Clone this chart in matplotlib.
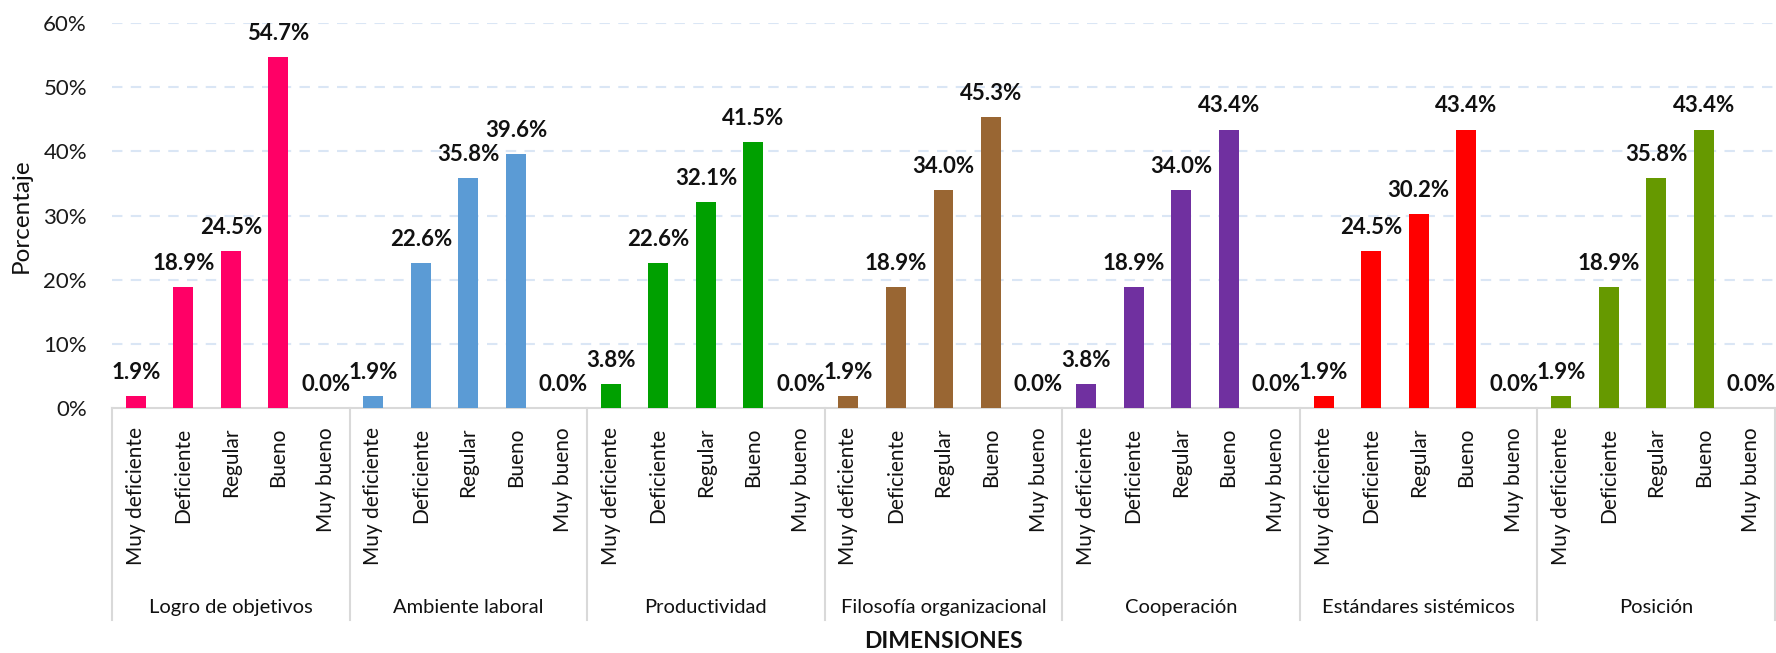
import numpy as np
import matplotlib.pyplot as plt
from matplotlib.ticker import PercentFormatter
import matplotlib.transforms as mtransforms

plt.rcParams['font.family'] = ['Lato', 'DejaVu Sans']

# Datos
dimensiones = ['Logro de objetivos', 'Ambiente laboral', 'Productividad',
               'Filosofía organizacional', 'Cooperación',
               'Estándares sistémicos', 'Posición']
niveles = ['Muy deficiente', 'Deficiente', 'Regular', 'Bueno', 'Muy bueno']

logro = [1.9, 18.9, 24.5, 54.7, 0.0]
ambiente = [1.9, 22.6, 35.8, 39.6, 0.0]
productividad = [3.8, 22.6, 32.1, 41.5, 0.0]
filosofia = [1.9, 18.9, 34.0, 45.3, 0.0]
cooperacion = [3.8, 18.9, 34.0, 43.4, 0.0]
estandares = [1.9, 24.5, 30.2, 43.4, 0.0]
posicion = [1.9, 18.9, 35.8, 43.4, 0.0]

series = [logro, ambiente, productividad, filosofia, cooperacion, estandares, posicion]
colores = ['#FF0066', '#5B9BD5', '#00A000', '#996633', '#7030A0', '#FF0000', '#669900']

fig = plt.figure(figsize=(17.76, 6.53), dpi=100)
ax = fig.add_axes([112 / 1776, 1 - 408 / 653, (1775 - 112) / 1776, 385 / 653])

n = len(niveles)
for g, (vals, col) in enumerate(zip(series, colores)):
    x = np.arange(n) + g * n
    ax.bar(x, vals, width=0.42, color=col, zorder=3)
    for xi, v in zip(x, vals):
        ax.annotate(f'{v:.1f}%', (xi, v), xytext=(0, 17), textcoords='offset points',
                    ha='center', va='center', fontsize=16, fontweight='bold',
                    color='#111111', zorder=4)

total = n * len(series)
ax.set_xlim(-0.5, total - 0.5)
ax.set_ylim(0, 60)
ax.set_yticks(np.arange(0, 61, 10))
ax.yaxis.set_major_formatter(PercentFormatter(decimals=0))
ax.tick_params(axis='y', length=0, pad=18, labelsize=16, labelcolor='#1A1A1A')
ax.set_xticks(np.arange(total))
ax.set_xticklabels(niveles * len(series), rotation=90, fontsize=15, color='#111111')
ax.tick_params(axis='x', length=0, pad=14)

for s in ['top', 'right', 'left']:
    ax.spines[s].set_visible(False)
ax.spines['bottom'].set_color('#D9D9D9')
ax.spines['bottom'].set_linewidth(1.5)

ax.yaxis.grid(True, linestyle=(0, (5, 4)), color='#DAE6F5', linewidth=1.5, zorder=0)
for yl in ax.get_ygridlines()[:1]:
    yl.set_visible(False)

trans = mtransforms.blended_transform_factory(ax.transData, ax.transAxes)
for k in range(len(series) + 1):
    ax.plot([k * n - 0.5, k * n - 0.5], [0, -0.551], transform=trans,
            color='#D9D9D9', linewidth=1.5, clip_on=False)
for g, nombre in enumerate(dimensiones):
    ax.text(g * n + (n - 1) / 2, -0.517, nombre, transform=trans, ha='center',
            va='center', fontsize=14.5, color='#111111')

ax.set_ylabel('Porcentaje', fontsize=17.5, color='#111111', labelpad=8)
fig.text((112 + 1775) / 2 / 1776, 1 - 642 / 653, 'DIMENSIONES', ha='center',
         va='center', fontsize=16.5, fontweight='bold', color='#111111')

fig.savefig('out.png', dpi=100)
